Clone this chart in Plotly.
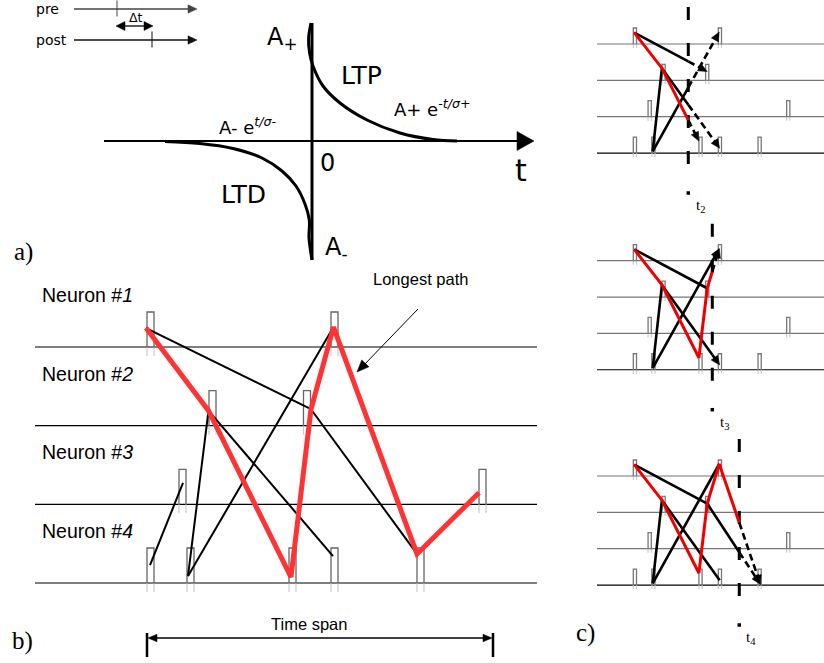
import math
import plotly.graph_objects as go

W, H = 824, 663

# ---------------- panel a) : STDP window ----------------
PRE_POST_LABELS = ["pre", "post"]
PRE_POST_Y = [9, 40]
PRE_POST_LINE_X = [74, 197]
PRE_POST_SPIKE_X = [117, 152]
DELTA_T_LABEL = "Δt"
DELTA_T_Y = 26

AXIS_Y = 141
AXIS_X = [104, 534]
VAXIS_X = 312
VAXIS_Y = [23, 260]

LTP_X = [311, 308.6, 309.6, 313, 323, 340, 367, 400, 433, 457]
LTP_Y = [23, 38, 53, 66, 86, 103, 120, 133, 139.5, 141]
LTD_X = [165, 200, 233, 262, 282, 296, 305, 309.3, 309, 312]
LTD_Y = [141.5, 143.5, 148.5, 158, 171, 186, 204, 220, 238, 260]

# ---------------- panel b) : spike trains ----------------
NEURON_LABELS = ["Neuron #<i>1</i>", "Neuron #<i>2</i>", "Neuron #<i>3</i>", "Neuron #<i>4</i>"]
SPIKE_TIMES = {1: [0, 184], 2: [62, 156.5], 3: [32, 332], 4: [0, 40, 142, 184, 270]}

# attach point of each spike event: (time, fraction of spike height)
B_ATTACH = {
    (1, 0): (-1, 0.54), (1, 1): (186.5, 0.57),
    (2, 0): (61.5, 0.43), (2, 1): (164, 0.47),
    (3, 0): (36, 0.61), (3, 1): (332, 0.33),
    (4, 0): (3, 0.51), (4, 1): (41, 0.20), (4, 2): (144, 0.17),
    (4, 3): (186, 0.77), (4, 4): (270, 0.83),
}
LONGEST_PATH = [(1, 0), (2, 0), (4, 2), (2, 1), (1, 1), (4, 4), (3, 1)]
B_EDGES = [((1, 0), (2, 1)), ((2, 1), (4, 4)), ((2, 0), (4, 3)),
           ((4, 1), (2, 0)), ((4, 1), (1, 1)), ((4, 0), (3, 0))]

# ---------------- panel c) : growth of the path over time ----------------
C_ATTACH = {
    (1, 0): (2, 0.71), (2, 0): (62, 0.76), (4, 2): (142, 0.75), (2, 1): (160, 0.55),
    (1, 1): (186, 0.75), (4, 4): (275, 0.05), (4, 3): (187, 0.30), (4, 1): (42, 0.10),
}
C_TIME_MARKS = [119, 171, 229.4]
C_TIME_LABELS = ["2", "3", "4"]
C_RED_EDGE_COUNT = [2, 4, 5]
C_BLACK_EDGES = [
    [((1, 0), (2, 1)), ((2, 0), (4, 3)), ((4, 1), (2, 0)), ((4, 1), (1, 1))],
    [((1, 0), (2, 1)), ((2, 0), (4, 3)), ((4, 1), (2, 0)), ((4, 1), (1, 1))],
    [((1, 0), (2, 1)), ((2, 1), (4, 4)), ((2, 0), (4, 3)), ((4, 1), (2, 0)), ((4, 1), (1, 1))],
]

PANEL_LABELS = ["a)", "b)", "c)"]

# ---------------- geometry / style ----------------
B_X0, B_SX, B_Y0, B_DY, B_W, B_H = 147, 1.0, 347, 78.67, 7, 35
B_LINE_X = [35, 537]
C_X0, C_SX, C_DY, C_W, C_H = 633.3, 0.462, 36.35, 3.2, 16
C_BASES = [44, 260.7, 476]
C_LINE_X = [597, 824]

SANS_A = "DejaVu Sans"
SANS = "Liberation Sans, Arial"
SERIF = "Liberation Serif, Times New Roman"
RED_B = "#ff3333"
RED_C = "#ee0000"

fig = go.Figure()


def line(xs, ys, color="black", width=1.0, dash=None, shape="linear"):
    fig.add_trace(go.Scatter(x=xs, y=ys, mode="lines",
                             line=dict(color=color, width=width, dash=dash, shape=shape,
                                       smoothing=1.0 if shape == "spline" else None),
                             hoverinfo="skip", showlegend=False))


def head(tip, frm, length, half, color="black"):
    dx, dy = tip[0] - frm[0], tip[1] - frm[1]
    n = math.hypot(dx, dy) or 1.0
    ux, uy = dx / n, dy / n
    bx, by = tip[0] - length * ux, tip[1] - length * uy
    px, py = -uy, ux
    xs = [tip[0], bx + half * px, bx - half * px, tip[0]]
    ys = [tip[1], by + half * py, by - half * py, tip[1]]
    fig.add_trace(go.Scatter(x=xs, y=ys, mode="lines", fill="toself", fillcolor=color,
                             line=dict(color=color, width=0.5), hoverinfo="skip",
                             showlegend=False))


def text(x, y, s, size, family=SANS, xanchor="center", yanchor="middle", color="black"):
    fig.add_annotation(x=x, y=y, text=s, showarrow=False, xanchor=xanchor, yanchor=yanchor,
                       font=dict(family=family, size=size, color=color))


# ===== panel a =====
for lab, y, sx, col in zip(PRE_POST_LABELS, PRE_POST_Y, PRE_POST_SPIKE_X, ["#444444", "#111111"]):
    line([PRE_POST_LINE_X[0], PRE_POST_LINE_X[1] - 6], [y, y], col, 1.3)
    head((PRE_POST_LINE_X[1], y), (PRE_POST_LINE_X[0], y), 9, 4.2, col)
    line([sx, sx], [y - 8.5, y + 7.5], col, 1.0)
    text(34, y, lab, 14, SANS_A, xanchor="left")

dt_l, dt_r = PRE_POST_SPIKE_X[0] - 1, PRE_POST_SPIKE_X[1] + 1
line([dt_l + 6, dt_r - 6], [DELTA_T_Y, DELTA_T_Y], "black", 1.3)
head((dt_l, DELTA_T_Y), (dt_r, DELTA_T_Y), 9, 4.5)
head((dt_r, DELTA_T_Y), (dt_l, DELTA_T_Y), 9, 4.5)
text((dt_l + dt_r) / 2 + 1, DELTA_T_Y - 9, DELTA_T_LABEL, 12.5, SANS_A)

line([AXIS_X[0], AXIS_X[1] - 12], [AXIS_Y, AXIS_Y], "black", 2)
head((AXIS_X[1], AXIS_Y), (AXIS_X[0], AXIS_Y), 17, 9.5)
line([VAXIS_X, VAXIS_X], VAXIS_Y, "black", 3)
line(LTP_X, LTP_Y, "black", 3, shape="spline")
line(LTD_X, LTD_Y, "black", 3, shape="spline")

text(282, 38, "A<sub>+</sub>", 24, SANS_A)
text(361, 75, "LTP", 25, SANS_A)
text(243, 194, "LTD", 25, SANS_A)
text(327, 163, "0", 24, SANS_A)
text(336, 248, "A<sub>-</sub>", 24, SANS_A)
text(521, 170, "t", 30, SANS_A)
text(217, 126, "A- e<sup><i>t/σ-</i></sup>", 18, SANS_A, xanchor="left")
text(392, 108, "A+ e<sup><i>-t/σ+</i></sup>", 18, SANS_A, xanchor="left")
text(23, 252, PANEL_LABELS[0], 25, SERIF)


# ===== spike trains helper =====
def draw_trains(x0, sx, y0, dy, w, h, line_x, base_colors, spike_color, tail):
    for k, times in SPIKE_TIMES.items():
        base = y0 + (k - 1) * dy
        line(line_x, [base, base], base_colors[k - 1], 1.2)
        xs, ys, tx, ty = [], [], [], []
        for t in times:
            x = x0 + sx * t
            xs += [x, x, x + w, x + w, None]
            ys += [base + 0.5, base - h, base - h, base + 0.5, None]
            tx += [x, x, None, x + w, x + w, None]
            ty += [base, base + tail, None, base, base + tail, None]
        line(tx, ty, "#cccccc", 1.2)
        line(xs, ys, spike_color, 1.3)


def bpt(node):
    t, f = B_ATTACH[node]
    return (B_X0 + B_SX * t, B_Y0 + (node[0] - 1) * B_DY - f * B_H)


# ===== panel b =====
draw_trains(B_X0, B_SX, B_Y0, B_DY, B_W, B_H, B_LINE_X, ["black"] * 4, "#666666", 9)
for i, lab in enumerate(NEURON_LABELS):
    text(40, B_Y0 - 52 + i * B_DY, lab, 19.5, SANS, xanchor="left")
for a, b in B_EDGES:
    pa, pb = bpt(a), bpt(b)
    line([pa[0], pb[0]], [pa[1], pb[1]], "black", 2)
pts = [bpt(n) for n in LONGEST_PATH]
line([p[0] for p in pts], [p[1] for p in pts], RED_B, 5)

text(420, 279, "Longest path", 16.5, SANS)
line([418, 363], [309, 366], "black", 1)
head((357, 372), (418, 309), 12, 5)

span_l, span_r, span_y = B_X0, 493, 638
line([span_l + 8, span_r - 8], [span_y, span_y], "black", 1.6)
head((span_l + 1, span_y), (span_r, span_y), 9, 3.8)
head((span_r - 1, span_y), (span_l, span_y), 9, 3.8)
line([span_l, span_l], [633, 657], "black", 2.5)
line([span_r, span_r], [633, 657], "black", 2.5)
text((span_l + span_r) / 2 - 11, 624, "Time span", 16.5, SANS)
text(22, 641, PANEL_LABELS[1], 25, SERIF)


# ===== panel c =====
def cpt(node, base0):
    t, f = C_ATTACH[node]
    return (C_X0 + C_SX * t, base0 + (node[0] - 1) * C_DY - f * C_H)


def split(pa, pb, xm):
    r = (xm - pa[0]) / (pb[0] - pa[0])
    return (xm, pa[1] + r * (pb[1] - pa[1]))


for j, base0 in enumerate(C_BASES):
    tm = C_TIME_MARKS[j]
    xm = C_X0 + C_SX * tm
    draw_trains(C_X0, C_SX, base0, C_DY, C_W, C_H, C_LINE_X,
                ["#777777", "#777777", "#777777", "black"], "#777777", 4)
    # time marker
    line([xm, xm], [base0 - 37, base0 + 128], "black", 3, dash="13px,23px")
    fig.add_trace(go.Scatter(x=[xm], y=[base0 + 149], mode="markers",
                             marker=dict(symbol="square", size=3.5, color="black"),
                             hoverinfo="skip", showlegend=False))
    text(xm + 12, base0 + 162, "t<sub>" + C_TIME_LABELS[j] + "</sub>", 15, SERIF)

    dashed = []
    for a, b in C_BLACK_EDGES[j]:
        pa, pb = cpt(a, base0), cpt(b, base0)
        if pb[0] <= xm:
            line([pa[0], pb[0]], [pa[1], pb[1]], "black", 2.6)
        else:
            pmid = split(pa, pb, xm)
            line([pa[0], pmid[0]], [pa[1], pmid[1]], "black", 2.6)
            dashed.append((pmid, pb))
    chain = [cpt(n, base0) for n in LONGEST_PATH[:C_RED_EDGE_COUNT[j] + 1]]
    if chain[-1][0] > xm:
        pmid = split(chain[-2], chain[-1], xm)
        dashed.append((pmid, chain[-1]))
        chain = chain[:-1] + [pmid]
    line([p[0] for p in chain], [p[1] for p in chain], RED_C, 3)
    for pm, pb in dashed:
        dx, dy = pb[0] - pm[0], pb[1] - pm[1]
        n = math.hypot(dx, dy)
        end = (pb[0] - 7 * dx / n, pb[1] - 7 * dy / n)
        line([pm[0], end[0]], [pm[1], end[1]], "black", 2.6, dash="7px,4px")
        head(pb, pm, 9, 4)

text(585, 633, PANEL_LABELS[2], 25, SERIF)

fig.update_layout(
    width=W, height=H, margin=dict(l=0, r=0, t=0, b=0),
    paper_bgcolor="white", plot_bgcolor="white", showlegend=False,
    xaxis=dict(range=[0, W], visible=False, fixedrange=True),
    yaxis=dict(range=[H, 0], visible=False, fixedrange=True),
)
fig.write_html("out.html", config={"displayModeBar": False},
               post_script="document.body.style.margin='0px';document.body.style.overflow='hidden';")
